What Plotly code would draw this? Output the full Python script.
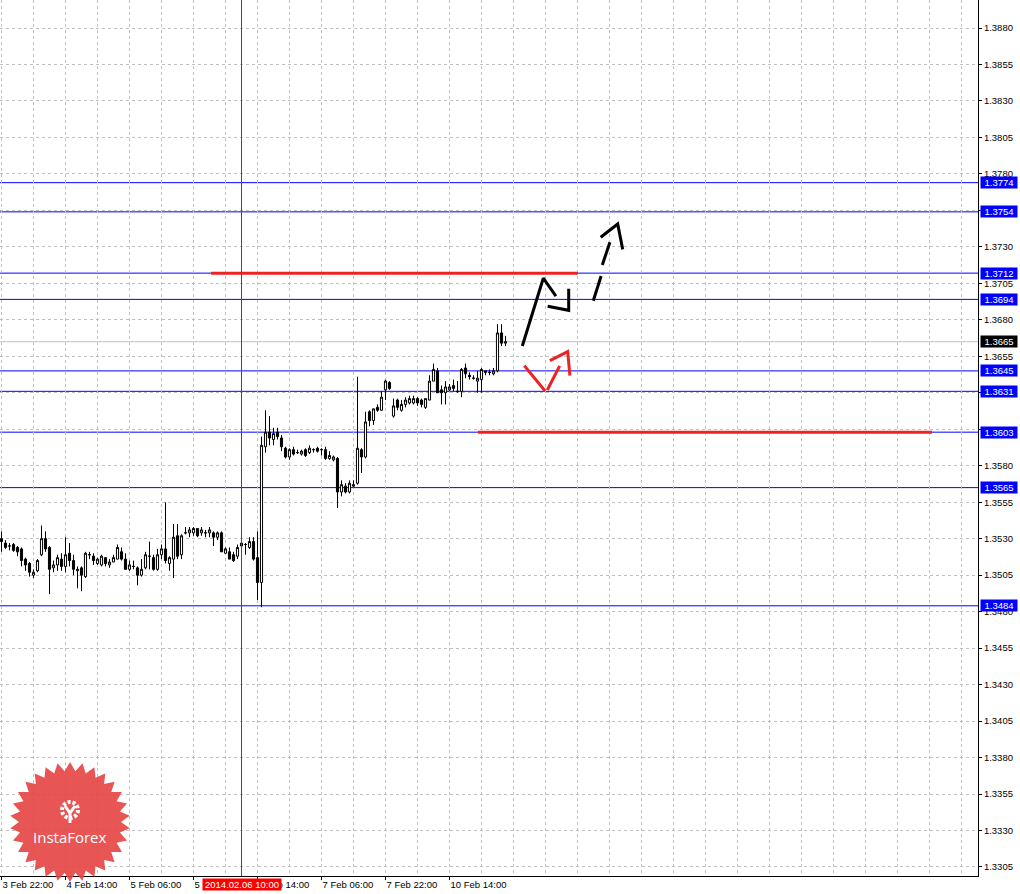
import numpy as np
import plotly.graph_objects as go

# hourly bars, index 0 = 3 Feb 22:00 (weekend skipped)
bar_open = [
    1.3530, 1.3527, 1.3525, 1.3526, 1.3524, 1.3523, 1.3516, 1.3513, 1.3505, 1.3508,
    1.3519, 1.3530, 1.3524, 1.3510, 1.3512, 1.3516, 1.3511, 1.3520, 1.3515, 1.3508,
    1.3510, 1.3504, 1.3519, 1.3518, 1.3513, 1.3512, 1.3517, 1.3512, 1.3514, 1.3516,
    1.3521, 1.3516, 1.3509, 1.3511, 1.3510, 1.3505, 1.3510, 1.3518, 1.3517, 1.3509,
    1.3519, 1.3523, 1.3513, 1.3516, 1.3532, 1.3519, 1.3534, 1.3534, 1.3534, 1.3537,
    1.3534, 1.3534, 1.3534, 1.3534, 1.3531, 1.3534, 1.3520, 1.3521, 1.3519, 1.3518,
    1.3525, 1.3526, 1.3524, 1.3528, 1.3517, 1.3500, 1.3593, 1.3603, 1.3598, 1.3603,
    1.3599, 1.3592, 1.3586, 1.3591, 1.3589, 1.3588, 1.3591, 1.3589, 1.3591, 1.3592,
    1.3591, 1.3591, 1.3585, 1.3584, 1.3585, 1.3562, 1.3566, 1.3562, 1.3566, 1.3568,
    1.3591, 1.3586, 1.3617, 1.3611, 1.3620, 1.3618, 1.3632, 1.3637, 1.3614, 1.3625,
    1.3618, 1.3622, 1.3623, 1.3623, 1.3626, 1.3625, 1.3620, 1.3625, 1.3638, 1.3645,
    1.3632, 1.3630, 1.3632, 1.3635, 1.3631, 1.3631, 1.3647, 1.3642, 1.3640, 1.3638,
    1.3639, 1.3645, 1.3644, 1.3643, 1.3645, 1.3671, 1.3664,
]
bar_high = [
    1.3535, 1.3529, 1.3527, 1.3527, 1.3525, 1.3524, 1.3517, 1.3514, 1.3509, 1.3516,
    1.3539, 1.3535, 1.3525, 1.3515, 1.3519, 1.3520, 1.3531, 1.3527, 1.3519, 1.3511,
    1.3511, 1.3521, 1.3521, 1.3520, 1.3517, 1.3519, 1.3517, 1.3516, 1.3519, 1.3526,
    1.3524, 1.3520, 1.3515, 1.3515, 1.3511, 1.3516, 1.3521, 1.3528, 1.3519, 1.3523,
    1.3526, 1.3555, 1.3518, 1.3540, 1.3540, 1.3533, 1.3538, 1.3538, 1.3538, 1.3537,
    1.3538, 1.3536, 1.3538, 1.3535, 1.3535, 1.3535, 1.3524, 1.3524, 1.3521, 1.3526,
    1.3534, 1.3527, 1.3531, 1.3531, 1.3535, 1.3600, 1.3618, 1.3614, 1.3606, 1.3606,
    1.3601, 1.3593, 1.3592, 1.3593, 1.3591, 1.3591, 1.3592, 1.3594, 1.3592, 1.3593,
    1.3592, 1.3593, 1.3590, 1.3587, 1.3586, 1.3570, 1.3568, 1.3570, 1.3570, 1.3641,
    1.3592, 1.3617, 1.3618, 1.3619, 1.3622, 1.3631, 1.3639, 1.3638, 1.3626, 1.3626,
    1.3625, 1.3627, 1.3628, 1.3628, 1.3627, 1.3626, 1.3626, 1.3642, 1.3650, 1.3647,
    1.3635, 1.3638, 1.3636, 1.3639, 1.3638, 1.3647, 1.3650, 1.3644, 1.3642, 1.3645,
    1.3647, 1.3645, 1.3646, 1.3647, 1.3677, 1.3677, 1.3669,
]
bar_low = [
    1.3521, 1.3523, 1.3522, 1.3521, 1.3518, 1.3511, 1.3508, 1.3504, 1.3503, 1.3507,
    1.3518, 1.3521, 1.3492, 1.3507, 1.3508, 1.3508, 1.3507, 1.3511, 1.3505, 1.3496,
    1.3494, 1.3503, 1.3516, 1.3512, 1.3512, 1.3511, 1.3511, 1.3510, 1.3514, 1.3516,
    1.3515, 1.3509, 1.3508, 1.3509, 1.3498, 1.3504, 1.3509, 1.3509, 1.3508, 1.3508,
    1.3516, 1.3513, 1.3508, 1.3503, 1.3516, 1.3516, 1.3533, 1.3531, 1.3532, 1.3531,
    1.3532, 1.3531, 1.3531, 1.3525, 1.3529, 1.3521, 1.3520, 1.3516, 1.3514, 1.3516,
    1.3523, 1.3519, 1.3523, 1.3515, 1.3488, 1.3483, 1.3589, 1.3594, 1.3594, 1.3598,
    1.3590, 1.3585, 1.3584, 1.3587, 1.3588, 1.3587, 1.3586, 1.3588, 1.3589, 1.3589,
    1.3587, 1.3584, 1.3584, 1.3583, 1.3551, 1.3559, 1.3561, 1.3561, 1.3565, 1.3567,
    1.3575, 1.3585, 1.3607, 1.3608, 1.3617, 1.3618, 1.3625, 1.3632, 1.3613, 1.3618,
    1.3617, 1.3620, 1.3622, 1.3622, 1.3621, 1.3620, 1.3619, 1.3625, 1.3638, 1.3630,
    1.3622, 1.3622, 1.3631, 1.3631, 1.3630, 1.3627, 1.3640, 1.3639, 1.3639, 1.3630,
    1.3630, 1.3642, 1.3642, 1.3642, 1.3644, 1.3662, 1.3662,
]
bar_close = [
    1.3528, 1.3524, 1.3525, 1.3522, 1.3521, 1.3515, 1.3512, 1.3507, 1.3507, 1.3515,
    1.3530, 1.3523, 1.3509, 1.3512, 1.3517, 1.3511, 1.3519, 1.3515, 1.3509, 1.3509,
    1.3505, 1.3520, 1.3519, 1.3515, 1.3516, 1.3518, 1.3513, 1.3514, 1.3517, 1.3524,
    1.3516, 1.3509, 1.3512, 1.3511, 1.3505, 1.3509, 1.3519, 1.3518, 1.3509, 1.3519,
    1.3523, 1.3515, 1.3517, 1.3531, 1.3518, 1.3532, 1.3534, 1.3536, 1.3537, 1.3532,
    1.3536, 1.3534, 1.3536, 1.3531, 1.3534, 1.3521, 1.3523, 1.3516, 1.3515, 1.3524,
    1.3527, 1.3526, 1.3528, 1.3516, 1.3500, 1.3594, 1.3603, 1.3599, 1.3602, 1.3600,
    1.3593, 1.3586, 1.3591, 1.3588, 1.3589, 1.3590, 1.3587, 1.3592, 1.3591, 1.3590,
    1.3591, 1.3585, 1.3587, 1.3586, 1.3562, 1.3567, 1.3562, 1.3568, 1.3567, 1.3592,
    1.3586, 1.3610, 1.3611, 1.3619, 1.3618, 1.3627, 1.3638, 1.3633, 1.3621, 1.3620,
    1.3622, 1.3625, 1.3626, 1.3626, 1.3623, 1.3622, 1.3626, 1.3638, 1.3646, 1.3630,
    1.3630, 1.3634, 1.3634, 1.3633, 1.3631, 1.3646, 1.3643, 1.3641, 1.3640, 1.3640,
    1.3646, 1.3644, 1.3644, 1.3645, 1.3671, 1.3664, 1.3665,
]
bar_index = list(range(len(bar_close)))

# time axis labels (bar index -> text)
time_tick_bars = [0, 16, 32, 48, 64, 80, 96, 112]
time_tick_text = ["3 Feb 22:00", "4 Feb 14:00", "5 Feb 06:00", "5 Feb 22:00",
                  "6 Feb 14:00", "7 Feb 06:00", "7 Feb 22:00", "10 Feb 14:00"]
cursor_bar = 60
cursor_text = "2014.02.06 10:00"

price_ticks = [1.3305, 1.3330, 1.3355, 1.3380, 1.3405, 1.3430, 1.3455, 1.3480,
               1.3505, 1.3530, 1.3555, 1.3580, 1.3605, 1.3630, 1.3655, 1.3680,
               1.3705, 1.3730, 1.3755, 1.3780, 1.3805, 1.3830, 1.3855, 1.3880]

levels = [1.3774, 1.3754, 1.3712, 1.3694, 1.3645, 1.3631, 1.3603, 1.3565, 1.3484]
last_price = 1.3665

# red target lines: (start bar, end bar, price)
red_lines = [(52.4, 144.1, 1.3712), (119.1, 232.6, 1.3603)]

# hand drawn arrows, None splits strokes
black_arrow_x = [130.2, 135.45, 138.6, None, 136.55, 141.8, 141.8]
black_arrow_y = [1.36621, 1.37085, 1.36963, None, 1.36893, 1.36865, 1.37013]
dash_arrow_x = [147.95, 149.9, None, 150.2, 152.1, None, 149.8, 154.05, 155.3]
dash_arrow_y = [1.36931, 1.37100, None, 1.37176, 1.37331, None, 1.37366, 1.37457, 1.37283]
red_arrow_x = [130.7, 135.9, None, 136.45, 139.55, None, 137.1, 141.55, 142.1]
red_arrow_y = [1.36486, 1.36312, None, 1.36319, 1.36484, None, 1.36520, 1.36582, 1.36417]

FONT = "Liberation Sans, Arial, sans-serif"
GRID = "#C0C0C0"
BLUE = "#0000FF"

fig = go.Figure()

fig.add_trace(go.Candlestick(
    x=bar_index, open=bar_open, high=bar_high, low=bar_low, close=bar_close,
    increasing=dict(line=dict(color="black", width=1), fillcolor="white"),
    decreasing=dict(line=dict(color="black", width=1), fillcolor="black"),
    whiskerwidth=0, showlegend=False, hoverinfo="skip",
))

for x0, x1, p in red_lines:
    fig.add_trace(go.Scatter(x=[x0, x1], y=[p, p], mode="lines",
                             line=dict(color="#EE2222", width=3),
                             showlegend=False, hoverinfo="skip"))

fig.add_trace(go.Scatter(x=black_arrow_x, y=black_arrow_y, mode="lines",
                         line=dict(color="black", width=3), showlegend=False, hoverinfo="skip"))
fig.add_trace(go.Scatter(x=dash_arrow_x, y=dash_arrow_y, mode="lines",
                         line=dict(color="black", width=3), showlegend=False, hoverinfo="skip"))
fig.add_trace(go.Scatter(x=red_arrow_x, y=red_arrow_y, mode="lines",
                         line=dict(color="#EE2222", width=3), showlegend=False, hoverinfo="skip"))

# level lines + price line
for lv in levels:
    fig.add_shape(type="line", xref="paper", x0=0, x1=1, yref="y", y0=lv, y1=lv,
                  line=dict(color=BLUE, width=1), layer="between")
fig.add_shape(type="line", xref="paper", x0=0, x1=1, yref="y", y0=last_price, y1=last_price,
              line=dict(color="#C0C0C0", width=1), layer="between")

# crosshair
fig.add_shape(type="line", xref="x", x0=cursor_bar, x1=cursor_bar, yref="paper", y0=0, y1=1,
              line=dict(color="#FF0000", width=1), layer="above")

annotations = []
for lv in levels:
    annotations.append(dict(
        x=1, xref="paper", y=lv, yref="y", xanchor="left", xshift=2,
        text=f"{lv:.4f}", showarrow=False, bgcolor=BLUE, width=34, height=9,
        borderpad=1, font=dict(family=FONT, size=9.5, color="white")))
annotations.append(dict(
    x=1, xref="paper", y=last_price, yref="y", xanchor="left", xshift=2,
    text=f"{last_price:.4f}", showarrow=False, bgcolor="black", width=34, height=9,
    borderpad=1, font=dict(family=FONT, size=9.5, color="white")))
annotations.append(dict(
    x=cursor_bar, xref="x", y=0, yref="paper", yanchor="top", yshift=-2,
    text=cursor_text, showarrow=False, bgcolor="#FF0000", width=78, height=11,
    borderpad=0, font=dict(family=FONT, size=9.5, color="white")))

# InstaForex badge
PW, PH = 978.0, 876.0
cx, cy = 70.0, 822.0
n_spikes = 30
ang = np.linspace(0, 2 * np.pi, 2 * n_spikes, endpoint=False) - np.pi / 2
rad = np.where(np.arange(2 * n_spikes) % 2 == 0, 60.0, 51.0)
pts = [((cx + r * np.cos(a)) / PW, 1 - (cy + r * np.sin(a)) / PH) for a, r in zip(ang, rad)]
star_path = "M " + " L ".join(f"{px:.5f},{py:.5f}" for px, py in pts) + " Z"
fig.add_shape(type="path", xref="paper", yref="paper", path=star_path,
              fillcolor="rgba(228,66,66,0.9)", line=dict(width=0), layer="above")
# small gear-like icon
fig.add_shape(type="circle", xref="paper", yref="paper",
              x0=(cx - 8) / PW, x1=(cx + 8) / PW, y0=1 - (810 + 8) / PH, y1=1 - (810 - 8) / PH,
              line=dict(color="white", width=4, dash="3px,2px"), layer="above")
fig.add_shape(type="path", xref="paper", yref="paper",
              path=(f"M {(cx - 5) / PW:.5f},{1 - 806 / PH:.5f} L {cx / PW:.5f},{1 - 813 / PH:.5f} "
                    f"L {(cx + 5) / PW:.5f},{1 - 806 / PH:.5f} M {cx / PW:.5f},{1 - 813 / PH:.5f} "
                    f"L {cx / PW:.5f},{1 - 823 / PH:.5f}"),
              line=dict(color="white", width=3), layer="above")
annotations.append(dict(
    x=cx / PW, xref="paper", y=1 - 837 / PH, yref="paper", xanchor="center", yanchor="middle",
    text="InstaForex", showarrow=False,
    font=dict(family="Open Sans, Arial", size=15, color="white")))

fig.update_layout(
    width=1020, height=894,
    margin=dict(l=0, r=42, t=0, b=18),
    paper_bgcolor="white", plot_bgcolor="white",
    showlegend=False, hovermode=False,
    boxgap=0.25,
    font=dict(family=FONT, size=9.5, color="black"),
    annotations=annotations,
    xaxis=dict(
        range=[-0.375, 244.125], rangeslider=dict(visible=False),
        tickvals=time_tick_bars, ticktext=time_tick_text,
        ticklabelposition="outside right",
        ticks="outside", ticklen=3, tickcolor="black",
        showgrid=False, zeroline=False,
        showline=True, linecolor="black", linewidth=1,
        minor=dict(dtick=8, tick0=0, showgrid=True, gridcolor=GRID, griddash="3px,3px", ticks=""),
        fixedrange=True,
    ),
    yaxis=dict(
        range=[1.329882, 1.389919], side="right",
        tickvals=price_ticks, ticktext=[f"{p:.4f}" for p in price_ticks],
        ticks="outside", ticklen=3, tickcolor="black",
        showgrid=True, gridcolor=GRID, griddash="3px,3px",
        zeroline=False, showline=True, linecolor="black", linewidth=1,
        fixedrange=True,
    ),
)

fig.write_html("out.html", config={"displayModeBar": False},
               post_script="document.body.style.margin='0';")
